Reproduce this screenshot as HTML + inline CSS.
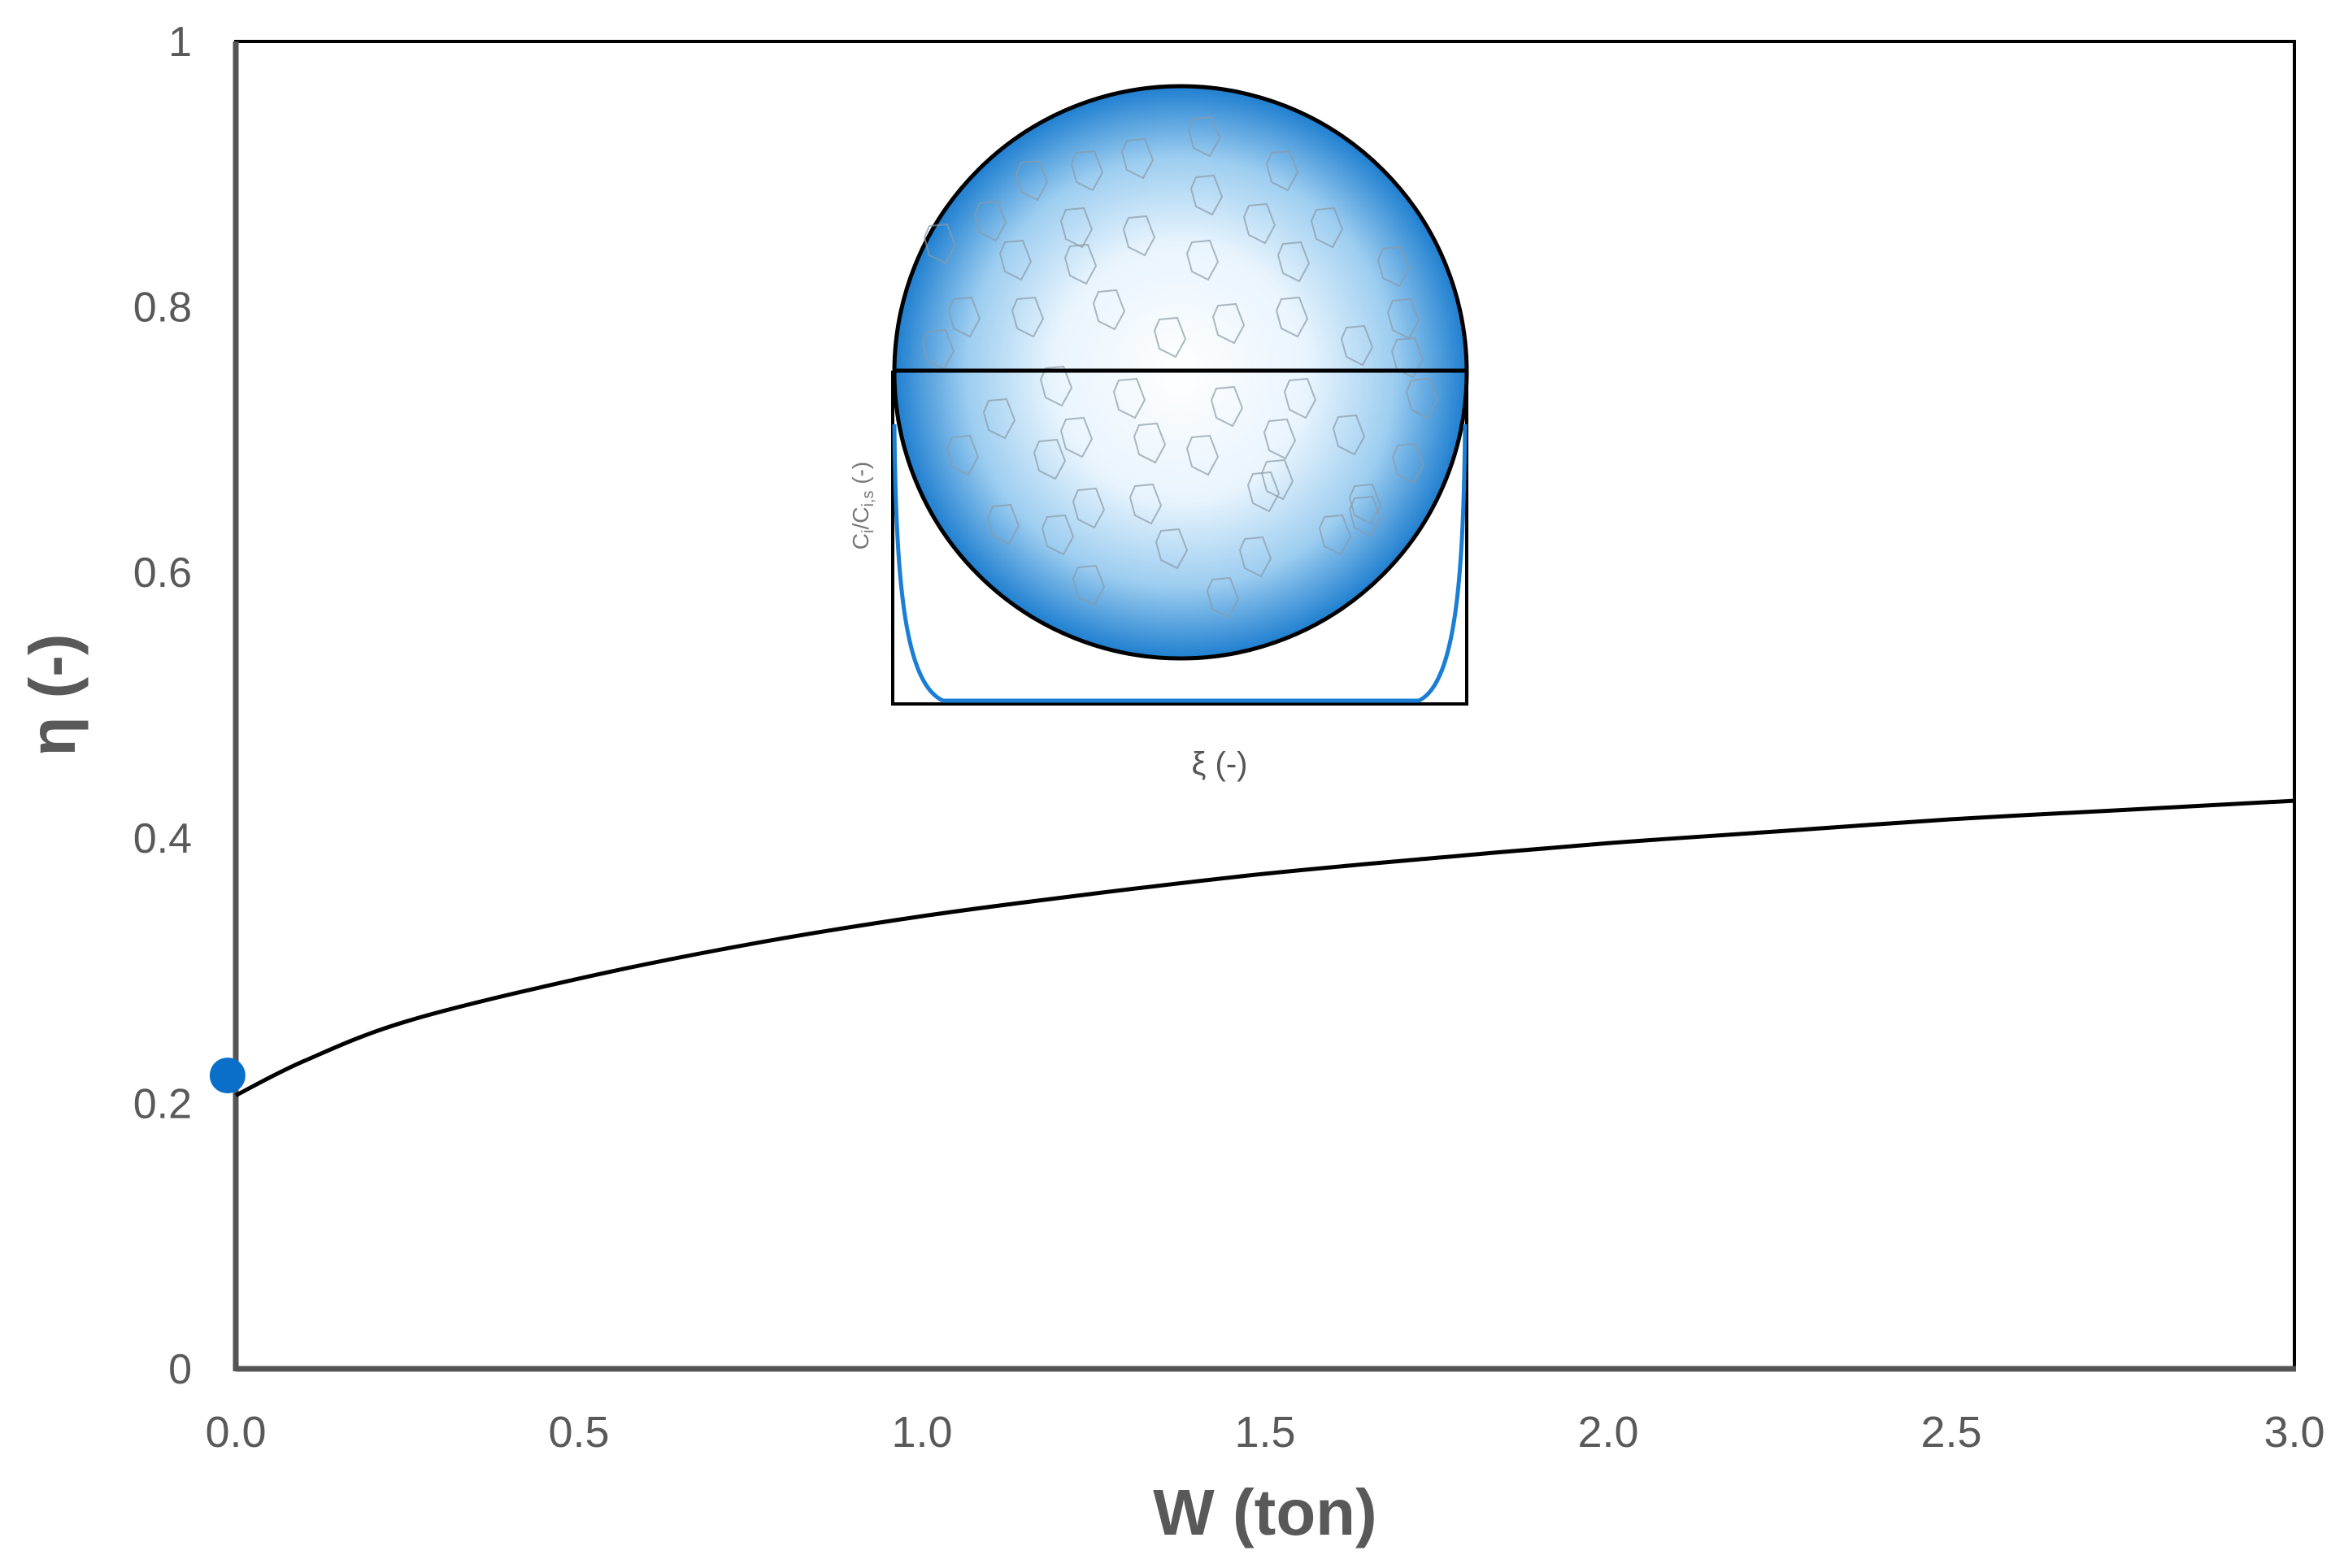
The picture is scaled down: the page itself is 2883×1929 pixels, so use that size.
<!DOCTYPE html>
<html><head><meta charset="utf-8"><style>
html,body{margin:0;padding:0;background:#fff;}
svg{display:block;}
</style></head><body>
<svg id="chart" width="2883" height="1929" viewBox="0 0 2883 1929" xmlns="http://www.w3.org/2000/svg">
<defs>
<radialGradient id="sphereGrad" cx="50%" cy="50%" r="50%">
<stop offset="0%" stop-color="#ffffff"/>
<stop offset="45%" stop-color="#e8f4fd"/>
<stop offset="75%" stop-color="#9ccdf0"/>
<stop offset="100%" stop-color="#1f7fd0"/>
</radialGradient>
</defs>
<g id="axes"></g>
<g id="inset"></g>
<g id="marks"></g>
</svg>
<script>
const xTicks = [0, 0.5, 1.0, 1.5, 2.0, 2.5, 3.0];
const xTickLabels = ["0.0","0.5","1.0","1.5","2.0","2.5","3.0"];
const yTicks = [0, 0.2, 0.4, 0.6, 0.8, 1];
const yTickLabels = ["0","0.2","0.4","0.6","0.8","1"];
const curveW = [0, 0.1, 0.25, 0.5, 0.75, 1.0, 1.25, 1.5, 1.75, 2.0, 2.25, 2.5, 2.75, 3.0];
const curveEta = [0.206, 0.232, 0.262, 0.294, 0.320, 0.341, 0.358, 0.373, 0.385, 0.396, 0.405, 0.414, 0.421, 0.428];
const pointW = [-0.012];
const pointEta = [0.221];

const NS = "http://www.w3.org/2000/svg";
const L = 290, R = 2822, T = 51, B = 1684;
function sx(v){ return L + (v - 0) / 3 * (R - L); }
function sy(v){ return B - v * (B - T); }
function mk(tag, attrs, parent){
  const e = document.createElementNS(NS, tag);
  for (const k in attrs) e.setAttribute(k, attrs[k]);
  parent.appendChild(e);
  return e;
}
const axes = document.getElementById('axes');
const marks = document.getElementById('marks');
const inset = document.getElementById('inset');

const frame = mk('rect', {x:L, y:T, width:R-L, height:B-T, fill:'none', stroke:'#000', 'stroke-width':4}, axes);


const yAxisLine = mk('line', {x1:L, y1:T, x2:L, y2:B+3, stroke:'#555', 'stroke-width':7}, axes);


const xAxisLine = mk('line', {x1:L, y1:B, x2:R+2, y2:B, stroke:'#555', 'stroke-width':7}, axes);



yTicks.forEach((v, i) => {
  const t = mk('text', {x:236, y:sy(v)+18, 'text-anchor':'end', 'font-family':'Liberation Sans, sans-serif', 'font-size':52, fill:'#595959'}, axes);
  t.textContent = yTickLabels[i];
  
  
});
xTicks.forEach((v, i) => {
  const t = mk('text', {x:sx(v), y:1780, 'text-anchor':'middle', 'font-family':'Liberation Sans, sans-serif', 'font-size':54, fill:'#595959'}, axes);
  t.textContent = xTickLabels[i];
  
  
});
const xt = mk('text', {x:1556, y:1888, 'text-anchor':'middle', 'font-family':'Liberation Sans, sans-serif', 'font-size':80, 'font-weight':'bold', fill:'#595959'}, axes);
xt.textContent = 'W (ton)';


const yt = mk('text', {x:0, y:0, 'text-anchor':'middle', 'font-family':'Liberation Sans, sans-serif', 'font-size':80, 'font-weight':'bold', fill:'#595959', transform:'translate(92,855) rotate(-90)'}, axes);
yt.textContent = 'η (-)';



// inset
const cx = 1452, cy = 458, r = 352;
const circ = mk('circle', {cx:cx, cy:cy, r:r, fill:'url(#sphereGrad)', stroke:'#000', 'stroke-width':5}, inset);


const pent = [[1482,168],[1270,222],[1338,210],[1400,195],[1578,210],[1219,272],[1325,280],[1402,290],[1485,240],[1550,275],[1633,280],[1157,300],[1250,320],[1330,325],[1480,320],[1592,322],[1715,328],[1187,390],[1265,390],[1365,381],[1590,390],[1512,398],[1727,392],[1732,440],[1155,430],[1440,415],[1670,425],[1300,475],[1390,490],[1600,490],[1510,500],[1750,490],[1230,515],[1325,538],[1415,545],[1575,540],[1660,535],[1480,560],[1572,590],[1185,560],[1292,565],[1733,570],[1340,625],[1410,620],[1555,605],[1680,635],[1235,645],[1302,658],[1442,675],[1643,658],[1545,685],[1680,620],[1340,720],[1505,735]];
pent.forEach(p => {
  const [x, y] = p;
  const pts = [[x-14,y-22],[x+8,y-24],[x+18,y+2],[x+6,y+24],[x-14,y+14],[x-20,y-8]].map(q=>q.join(',')).join(' ');
  const pg = mk('polygon', {points:pts, fill:'none', stroke:'#8a9aa8', 'stroke-width':2, opacity:0.7}, inset);
  
  
});
const hl = mk('line', {x1:1098, y1:456, x2:1806, y2:456, stroke:'#000', 'stroke-width':5}, inset);


const box = mk('polyline', {points:'1098,456 1098,866 1804,866 1804,456', fill:'none', stroke:'#000', 'stroke-width':4}, inset);


const prof = mk('path', {d:'M1100,522 C1102,700 1110,840 1160,862 L1745,862 C1792,840 1800,700 1802,522', fill:'none', stroke:'#1a7fd4', 'stroke-width':5}, inset);


const iyl = mk('text', {x:0, y:0, 'text-anchor':'middle', 'font-family':'Liberation Sans, sans-serif', 'font-size':28, fill:'#777', transform:'translate(1068,622) rotate(-90)'}, inset);
iyl.innerHTML = 'C<tspan font-size="20" dy="6">i</tspan><tspan dy="-6">/C</tspan><tspan font-size="20" dy="6">i,s</tspan><tspan dy="-6"> (-)</tspan>';


const ixl = mk('text', {x:1500, y:953, 'text-anchor':'middle', 'font-family':'Liberation Sans, DejaVu Sans, sans-serif', 'font-size':40, fill:'#555'}, inset);
ixl.textContent = 'ξ (-)';



// smooth curve (Catmull-Rom)
const P = curveW.map((w, i) => [sx(w), sy(curveEta[i])]);
let d = 'M' + P[0][0].toFixed(1) + ',' + P[0][1].toFixed(1);
for (let i = 0; i < P.length - 1; i++) {
  const p0 = P[Math.max(i-1,0)], p1 = P[i], p2 = P[i+1], p3 = P[Math.min(i+2,P.length-1)];
  const c1 = [p1[0] + (p2[0]-p0[0])/6, p1[1] + (p2[1]-p0[1])/6];
  const c2 = [p2[0] - (p3[0]-p1[0])/6, p2[1] - (p3[1]-p1[1])/6];
  d += ' C' + c1.map(v=>v.toFixed(1)).join(',') + ' ' + c2.map(v=>v.toFixed(1)).join(',') + ' ' + p2.map(v=>v.toFixed(1)).join(',');
}
const line = mk('path', {d:d, fill:'none', stroke:'#000', 'stroke-width':5, 'stroke-linejoin':'round'}, marks);


pointW.forEach((w, i) => {
  const c = mk('circle', {cx:sx(w), cy:sy(pointEta[i]), r:22, fill:'#0a6fc9'}, marks);
  
  
});
</script>
</body></html>
